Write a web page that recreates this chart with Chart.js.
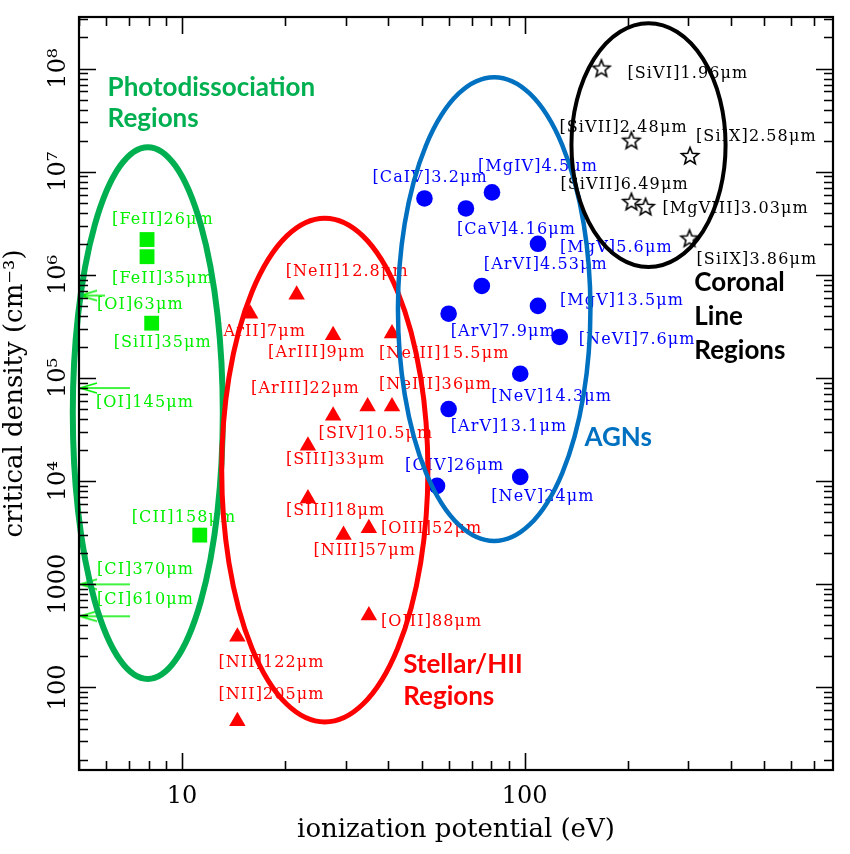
<!DOCTYPE html>
<html>
<head>
<meta charset="utf-8">
<script src="https://cdn.jsdelivr.net/npm/chart.js@4.4.1/dist/chart.umd.min.js"></script>
<style>
  html, body { margin: 0; padding: 0; background: #ffffff; }
  #wrap { width: 850px; height: 854px; }
</style>
</head>
<body>
<div id="wrap"><canvas id="chart" width="850" height="854"></canvas></div>
<script>
// ---------------- DATA ----------------
// Photodissociation regions (squares)
const pdrLabels  = ['[FeII]26\u03bcm', '[FeII]35\u03bcm', '[SiII]35\u03bcm', '[CII]158\u03bcm'];
const pdrIP      = [7.9, 7.9, 8.15, 11.26];
const pdrDensity = [2.2e6, 1.5e6, 3.4e5, 3.0e3];

// Neutral lines shown as arrows at the left edge of the plot
const neutralLabels  = ['[OI]63\u03bcm', '[OI]145\u03bcm', '[CI]370\u03bcm', '[CI]610\u03bcm'];
const neutralIP      = [5, 5, 5, 5];
const neutralDensity = [6.3e5, 8.0e4, 1.0e3, 4.9e2];

// Stellar / HII regions (triangles)
const hiiLabels  = ['[NeII]12.8\u03bcm', '[ArII]7\u03bcm', '[ArIII]9\u03bcm', '[NeIII]15.5\u03bcm',
                    '[ArIII]22\u03bcm', '[NeIII]36\u03bcm', '[SIV]10.5\u03bcm', '[SIII]33\u03bcm',
                    '[SIII]18\u03bcm', '[OIII]52\u03bcm', '[NIII]57\u03bcm', '[OIII]88\u03bcm',
                    '[NII]122\u03bcm', '[NII]205\u03bcm'];
const hiiIP      = [21.6, 15.8, 27.6, 41.0, 27.6, 41.0, 34.8, 23.3, 23.3, 35.1, 29.6, 35.1, 14.5, 14.5];
const hiiDensity = [6.4e5, 4.2e5, 2.6e5, 2.7e5, 4.3e4, 5.3e4, 5.3e4, 2.2e4, 6.8e3, 3.5e3, 3.0e3, 500, 310, 47];

// AGNs (filled circles)
const agnLabels  = ['[CaIV]3.2\u03bcm', '[MgIV]4.5\u03bcm', '[CaV]4.16\u03bcm', '[MgV]5.6\u03bcm',
                    '[ArVI]4.53\u03bcm', '[MgV]13.5\u03bcm', '[ArV]7.9\u03bcm', '[NeVI]7.6\u03bcm',
                    '[NeV]14.3\u03bcm', '[ArV]13.1\u03bcm', '[OIV]26\u03bcm', '[NeV]24\u03bcm'];
const agnIP      = [51.0, 80.3, 67.4, 109.4, 75.0, 109.4, 60.0, 126.6, 97.1, 60.0, 55.5, 97.1];
const agnDensity = [5.5e6, 6.3e6, 4.4e6, 2.0e6, 7.8e5, 5.0e5, 4.2e5, 2.5e5, 1.1e5, 5.0e4, 9.0e3, 1.1e4];

// Coronal line regions (open stars)
const coronalLabels  = ['[SiVI]1.96\u03bcm', '[SiVII]2.48\u03bcm', '[SiIX]2.58\u03bcm',
                        '[SiVII]6.49\u03bcm', '[MgVIII]3.03\u03bcm', '[SiIX]3.86\u03bcm'];
const coronalIP      = [167.6, 205, 304, 205, 225.4, 303];
const coronalDensity = [1.0e8, 2.0e7, 1.42e7, 5.1e6, 4.56e6, 2.25e6];

// Region outlines (ellipses in log-log space): centre and half-axes in dex
const regionNames         = ['PDR', 'HII', 'AGN', 'Coronal'];
const regionCenterIP      = [7.94, 26.1, 81.5, 230];
const regionCenterDensity = [4.57e4, 1.28e4, 4.66e5, 1.81e7];
const regionHalfWidthDex  = [0.219, 0.301, 0.281, 0.225];
const regionHalfHeightDex = [2.578, 2.442, 2.248, 1.182];
const regionTitles = [['Photodissociation', 'Regions'], ['Stellar/HII', 'Regions'], ['AGNs'], ['Coronal', 'Line', 'Regions']];

// Axes
const xMin = 5, xMax = 795;
const yMin = 15.85, yMax = 3.16e8;
const xDecades = [1, 10, 100];
const yDecades = [10, 100, 1e3, 1e4, 1e5, 1e6, 1e7, 1e8];
const tickMultipliers = [1, 2, 3, 4, 5, 6, 7, 8, 9];
const yTickLabels = {100: '100', 1000: '1000', 10000: '10\u2074', 100000: '10\u2075',
                     1000000: '10\u2076', 10000000: '10\u2077', 100000000: '10\u2078'};
const xTickLabels = {10: '10', 100: '100'};

// ---------------- STYLE / LAYOUT ----------------
const COL = {
  pdrLine: '#00B050', pdrMark: '#00F000',
  hii: '#FF0000',
  agnLine: '#0070C0', agnMark: '#0000FF',
  cor: '#000000'
};
const regionColors = [COL.pdrLine, COL.hii, COL.agnLine, COL.cor];
const regionLineWidths = [6, 5, 4.5, 4];
// title anchor (left, middle of first line) in data units
const regionTitleAnchor = [[6.06, 6.59e7], [44.2, 166], [149.5, 2.67e4], [313, 8.5e5]];
const regionTitleLineStep = [31, 32, 0, 34];

// label offsets (px) : [dx to left edge of text, dy to text middle] relative to marker
const pdrOffsets = [[-35, -20], [-35, 22], [-38, 20], [-68, -17]];
const neutralOffsets = [[18, 9], [17, 15], [18, -14], [18, -16]];
const neutralArrowLen = [26, 51, 51, 51];
const hiiOffsets = [[-11, -23], [-34, 18], [-65, 18], [-13, 20], [-82, -27], [-13, -22], [-49, 27],
                    [-22, 14], [-22, 12], [12, 1], [-30, 16], [12, 6], [-19, 26], [-19, -26]];
const agnOffsets = [[-52, -21], [-14, -26], [-9, 21], [22, 4], [2, -21], [22, -5], [2, 18], [19, 3],
                    [-29, 23], [2, 18], [-32, -20], [-29, 20]];
const corOffsets = [[26, 5], [-72, -13], [6, -19], [-71, -17], [17, 2], [7, 21]];

const labelFont = '16px "DejaVu Serif"';
const labelSpacing = '1.1px';
const titleFont = 'bold 26px Lato';

// ---------------- marker images ----------------
function makeStar() {
  const c = document.createElement('canvas');
  c.width = 24; c.height = 24;
  const g = c.getContext('2d');
  const R = 9, r = 3.9, cx = 12, cy = 12.5;
  g.beginPath();
  for (let k = 0; k < 10; k++) {
    const rad = (k % 2 === 0) ? R : r;
    const a = -Math.PI / 2 + k * Math.PI / 5;
    const px = cx + rad * Math.cos(a), py = cy + rad * Math.sin(a);
    if (k === 0) g.moveTo(px, py); else g.lineTo(px, py);
  }
  g.closePath();
  g.lineWidth = 1.6;
  g.lineJoin = 'miter';
  g.strokeStyle = '#000';
  g.stroke();
  return c;
}
function makeArrow(len) {
  const c = document.createElement('canvas');
  c.width = 2 * len; c.height = 16;
  const g = c.getContext('2d');
  g.strokeStyle = COL.pdrMark;
  g.lineWidth = 1.6;
  g.beginPath();
  g.moveTo(len + 1, 8); g.lineTo(2 * len, 8);
  g.moveTo(len + 18, 3); g.lineTo(len + 1, 8); g.lineTo(len + 18, 13);
  g.stroke();
  return c;
}
const starImg = makeStar();
const arrowImgs = neutralArrowLen.map(makeArrow);

// ---------------- ticks ----------------
function buildTicks(decades, lo, hi) {
  const out = [];
  decades.forEach(d => tickMultipliers.forEach(m => {
    const v = Math.round(d * m * 1e6) / 1e6;
    if (v >= lo * 0.999 && v <= hi * 1.001) out.push({value: v, major: m === 1});
  }));
  return out;
}
const xTicks = buildTicks(xDecades, xMin, xMax);
const yTicks = buildTicks(yDecades, yMin, yMax);

function pts(xs, ys) { return xs.map((x, i) => ({x: x, y: ys[i]})); }

// ---------------- plugins ----------------
const datasetLabelInfo = [
  {labels: pdrLabels, offsets: pdrOffsets, color: COL.pdrMark},
  {labels: neutralLabels, offsets: neutralOffsets, color: COL.pdrMark},
  {labels: hiiLabels, offsets: hiiOffsets, color: COL.hii},
  {labels: agnLabels, offsets: agnOffsets, color: COL.agnMark},
  {labels: coronalLabels, offsets: corOffsets, color: COL.cor}
];

const overlayPlugin = {
  id: 'overlay',
  afterDatasetsDraw(chart) {
    const ctx = chart.ctx;
    const xs = chart.scales.x, ys = chart.scales.y;
    // point labels
    ctx.save();
    ctx.font = labelFont;
    if ('letterSpacing' in ctx) ctx.letterSpacing = labelSpacing;
    ctx.textAlign = 'left';
    ctx.textBaseline = 'middle';
    datasetLabelInfo.forEach((info, di) => {
      const meta = chart.getDatasetMeta(di);
      ctx.fillStyle = info.color;
      meta.data.forEach((el, i) => {
        const off = info.offsets[i];
        ctx.fillText(info.labels[i], el.x + off[0], el.y + off[1]);
      });
    });
    if ('letterSpacing' in ctx) ctx.letterSpacing = '0px';
    ctx.restore();
    // region ellipses (not clipped to the plot area)
    ctx.save();
    regionNames.forEach((n, i) => {
      const cx = xs.getPixelForValue(regionCenterIP[i]);
      const cy = ys.getPixelForValue(regionCenterDensity[i]);
      const rx = xs.getPixelForValue(regionCenterIP[i] * Math.pow(10, regionHalfWidthDex[i])) - cx;
      const ry = cy - ys.getPixelForValue(regionCenterDensity[i] * Math.pow(10, regionHalfHeightDex[i]));
      ctx.beginPath();
      ctx.ellipse(cx, cy, rx, ry, 0, 0, Math.PI * 2);
      ctx.lineWidth = regionLineWidths[i];
      ctx.strokeStyle = regionColors[i];
      ctx.stroke();
    });
    ctx.restore();
    // region titles
    ctx.save();
    ctx.font = titleFont;
    ctx.textAlign = 'left';
    ctx.textBaseline = 'middle';
    regionTitles.forEach((lines, i) => {
      const x0 = xs.getPixelForValue(regionTitleAnchor[i][0]);
      const y0 = ys.getPixelForValue(regionTitleAnchor[i][1]);
      ctx.fillStyle = regionColors[i];
      lines.forEach((t, k) => ctx.fillText(t, x0, y0 + k * regionTitleLineStep[i]));
    });
    ctx.restore();
  },
  afterDraw(chart) {
    const ctx = chart.ctx, a = chart.chartArea;
    const xs = chart.scales.x, ys = chart.scales.y;
    ctx.save();
    ctx.strokeStyle = '#000';
    ctx.lineWidth = 1.6;
    ctx.beginPath();
    xTicks.forEach(t => {
      const p = Math.round(xs.getPixelForValue(t.value)) + 0.5;
      const len = t.major ? 17 : 9;
      ctx.moveTo(p, a.bottom); ctx.lineTo(p, a.bottom - len);
      ctx.moveTo(p, a.top); ctx.lineTo(p, a.top + len);
    });
    yTicks.forEach(t => {
      const p = Math.round(ys.getPixelForValue(t.value)) + 0.5;
      const len = t.major ? 17 : 9;
      ctx.moveTo(a.left, p); ctx.lineTo(a.left + len, p);
      ctx.moveTo(a.right, p); ctx.lineTo(a.right - len, p);
    });
    ctx.stroke();
    ctx.lineWidth = 2.2;
    ctx.strokeRect(a.left, a.top, a.right - a.left, a.bottom - a.top);
    ctx.restore();
  }
};

// ---------------- chart ----------------
new Chart(document.getElementById('chart'), {
  type: 'scatter',
  data: {
    datasets: [
      {label: 'Photodissociation Regions', data: pts(pdrIP, pdrDensity),
       pointStyle: 'rect', pointRadius: 10.5, backgroundColor: COL.pdrMark, borderWidth: 0},
      {label: 'Neutral lines', data: pts(neutralIP, neutralDensity),
       pointStyle: arrowImgs, pointRadius: 5, backgroundColor: COL.pdrMark, borderWidth: 0},
      {label: 'Stellar/HII Regions', data: pts(hiiIP, hiiDensity),
       pointStyle: 'triangle', pointRadius: 9.5, backgroundColor: COL.hii, borderWidth: 0},
      {label: 'AGNs', data: pts(agnIP, agnDensity),
       pointStyle: 'circle', pointRadius: 8.3, backgroundColor: COL.agnMark, borderWidth: 0},
      {label: 'Coronal Line Regions', data: pts(coronalIP, coronalDensity),
       pointStyle: starImg, pointRadius: 9, backgroundColor: 'rgba(0,0,0,0)', borderWidth: 0}
    ]
  },
  options: {
    responsive: false,
    animation: false,
    devicePixelRatio: 1,
    layout: {padding: {top: 17, right: 17, left: 0, bottom: 0}},
    plugins: {legend: {display: false}, tooltip: {enabled: false}},
    scales: {
      x: {
        type: 'logarithmic', position: 'bottom', min: xMin, max: xMax,
        afterBuildTicks: s => { s.ticks = xTicks.map(t => ({value: t.value, major: t.major})); },
        afterFit: s => { s.height = 84; },
        grid: {display: false, drawTicks: false},
        border: {display: false},
        ticks: {
          autoSkip: false, maxRotation: 0, minRotation: 0, padding: 12, color: '#000',
          font: {family: 'DejaVu Serif', size: 24},
          callback: v => xTickLabels[v] || ''
        },
        title: {display: true, text: 'ionization potential (eV)', color: '#000',
                font: {family: 'DejaVu Serif', size: 26}, padding: {top: 0, bottom: 8}}
      },
      y: {
        type: 'logarithmic', position: 'left', min: yMin, max: yMax,
        afterBuildTicks: s => { s.ticks = yTicks.map(t => ({value: t.value, major: t.major})); },
        afterFit: s => { s.width = 79; },
        grid: {display: false, drawTicks: false},
        border: {display: false},
        ticks: {
          autoSkip: false, minRotation: 90, maxRotation: 90, crossAlign: 'center', padding: -10,
          color: '#000', font: {family: 'DejaVu Serif', size: 24},
          callback: v => yTickLabels[v] || ''
        },
        title: {display: true, text: 'critical density (cm\u207b\u00b3)', color: '#000',
                font: {family: 'DejaVu Serif', size: 26}, padding: {top: 0, bottom: 0}}
      }
    }
  },
  plugins: [overlayPlugin]
});
</script>
</body>
</html>
